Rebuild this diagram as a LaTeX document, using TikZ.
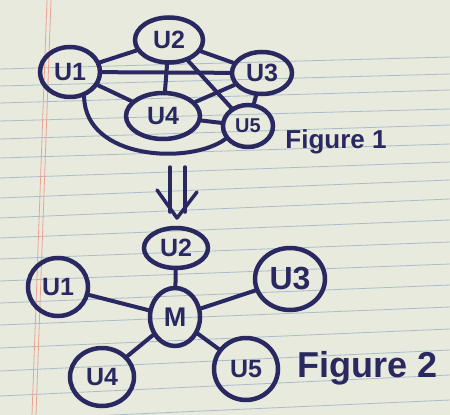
\documentclass[tikz,border=0pt]{standalone}
\usepackage{fontspec}
\setmainfont{Liberation Sans}
\usetikzlibrary{shapes.geometric}
\definecolor{ink}{HTML}{2A2860}
\definecolor{paper}{HTML}{E8EADD}
\definecolor{ruling}{HTML}{A8BCCE}
\definecolor{marginc}{HTML}{E9A493}
\tikzset{
  unode/.style={ellipse, draw=ink, line width=4.5pt, inner sep=0pt, text=ink,
    font=\bfseries\fontsize{25}{25}\selectfont},
  edge/.style={draw=ink, line width=4pt, line cap=round},
  figlabel/.style={text=ink, font=\bfseries\fontsize{#1}{#1}\selectfont},
}
\begin{document}
\begin{tikzpicture}[x=1pt,y=-1pt]
  % paper
  \fill[paper] (0,0) rectangle (450,415);
  \useasboundingbox (0,0) rectangle (450,415);
  \foreach \yl/\yr in {69/57,86/74,103/90,121/109,139/125,158/144,178/162,198/180,218/199,238/220,259/242,281/264,303/285,325/307,348/329,371/350,396/375,420/400}
    \draw[ruling, line width=0.8pt] (0,\yl) -- (450,\yr);
  \draw[marginc, line width=0.8pt] (47,0) -- (32,415);
  \draw[marginc, line width=0.8pt] (51,0) -- (36,415);

  % Figure 1
  \node[unode, minimum width=60pt, minimum height=50pt] (a1) at (70,72) {U1};
  \node[unode, minimum width=68pt, minimum height=45pt] (a2) at (169,40) {U2};
  \node[unode, minimum width=60pt, minimum height=42pt] (a3) at (262,73) {U3};
  \node[unode, minimum width=74pt, minimum height=46pt] (a4) at (163,116) {U4};
  \node[unode, minimum width=50pt, minimum height=42pt, font=\bfseries\fontsize{20}{20}\selectfont] (a5) at (248,126) {U5};
  \draw[edge] (a1) -- (a2);
  \draw[edge] (a1) -- (a3);
  \draw[edge] (a1) -- (a4);
  \draw[edge] (a2) -- (a3);
  \draw[edge] (a2) -- (a4);
  \draw[edge] (a2) -- (a5);
  \draw[edge] (a3) -- (a4);
  \draw[edge] (a3) -- (a5);
  \draw[edge] (a4) -- (a5);
  \draw[edge] (a1.-60) .. controls (85,160) and (190,165) .. (a5.-150);
  \node[figlabel=26] (f1) at (336,142) {Figure 1};

  % double arrow
  \coordinate (da1) at (170,167);
  \coordinate (da2) at (170,212);
  \coordinate (db1) at (185,167);
  \coordinate (db2) at (185,212);
  \coordinate (hl) at (157,190);
  \coordinate (ht) at (177,218);
  \coordinate (hr) at (197,192);
  \draw[edge, line width=3.5pt] (da1) -- (da2);
  \draw[edge, line width=3.5pt] (db1) -- (db2);
  \draw[edge, line width=3.5pt, line join=round] (hl) -- (ht) -- (hr);

  % Figure 2
  \node[unode, minimum width=50pt, minimum height=58pt, font=\bfseries\fontsize{27}{27}\selectfont] (m) at (175,317) {M};
  \node[unode, minimum width=64pt, minimum height=40pt] (b2) at (176,248) {U2};
  \node[unode, minimum width=60pt, minimum height=58pt] (b1) at (58,287) {U1};
  \node[unode, minimum width=70pt, minimum height=62pt, font=\bfseries\fontsize{32}{32}\selectfont] (b3) at (290,279) {U3};
  \node[unode, minimum width=64pt, minimum height=58pt] (b4) at (102,377) {U4};
  \node[unode, minimum width=64pt, minimum height=62pt] (b5) at (246,369) {U5};
  \draw[edge] (m) -- (b1);
  \draw[edge] (m) -- (b2);
  \draw[edge] (m) -- (b3);
  \draw[edge] (m) -- (b4);
  \draw[edge] (m) -- (b5);
  \node[figlabel=36] (f2) at (368,368) {Figure 2};
\end{tikzpicture}
\end{document}
